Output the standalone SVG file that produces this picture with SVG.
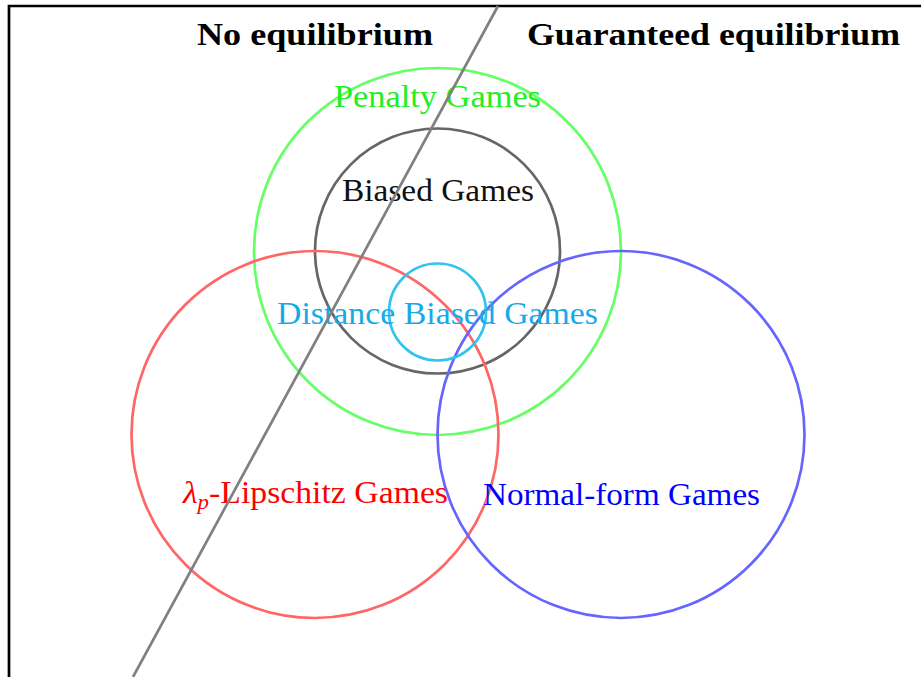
<svg xmlns="http://www.w3.org/2000/svg" width="921" height="677" viewBox="0 0 921 677">
<style>
  .c { fill: none; stroke-width: 2.7; }
  .t { font-family: "Liberation Serif", "DejaVu Serif", serif; font-size: 31px; text-anchor: middle; }
  .h { font-family: "Liberation Serif", "DejaVu Serif", serif; font-size: 31px; font-weight: bold; text-anchor: middle; fill: #000; }
</style>
<rect width="921" height="677" fill="#fff"/>
<g id="frame">
  <path d="M9,677 V6 H921" fill="none" stroke="#000" stroke-width="2.7"/>
</g>
<g id="headers">
  <text class="h" x="315" y="45" textLength="236" lengthAdjust="spacingAndGlyphs">No equilibrium</text>
  <text class="h" x="713.5" y="45" textLength="373" lengthAdjust="spacingAndGlyphs">Guaranteed equilibrium</text>
</g>
<g id="penalty">
  <circle class="c" cx="437.5" cy="251.5" r="183.5" stroke="#66ff66"/>
  <text class="t" x="437.5" y="107" fill="#22ee22" textLength="207" lengthAdjust="spacingAndGlyphs">Penalty Games</text>
</g>
<g id="biased">
  <circle class="c" cx="437.5" cy="251" r="122.5" stroke="#666666"/>
  <text class="t" x="438" y="201" fill="#111" textLength="192" lengthAdjust="spacingAndGlyphs">Biased Games</text>
</g>
<g id="lipschitz">
  <circle class="c" cx="315" cy="434.5" r="183.5" stroke="#ff6666"/>
  <text class="t" x="315.5" y="503" fill="#ff0000" textLength="265" lengthAdjust="spacingAndGlyphs"><tspan font-style="italic">λ</tspan><tspan font-style="italic" font-size="21" dy="6">p</tspan><tspan dy="-6">-Lipschitz Games</tspan></text>
</g>
<g id="normal">
  <circle class="c" cx="621" cy="434.5" r="183.5" stroke="#6666ff"/>
  <text class="t" x="621.5" y="505" fill="#0000ff" textLength="277" lengthAdjust="spacingAndGlyphs">Normal-form Games</text>
</g>
<g id="distance">
  <circle class="c" cx="437.5" cy="312" r="48.5" stroke="#33c3f0"/>
  <text class="t" x="437.5" y="324" fill="#18aae8" textLength="321" lengthAdjust="spacingAndGlyphs">Distance Biased Games</text>
</g>
<g id="connectors">
  <line x1="498" y1="6" x2="133" y2="677" stroke="#808080" stroke-width="2.7"/>
</g>
</svg>
